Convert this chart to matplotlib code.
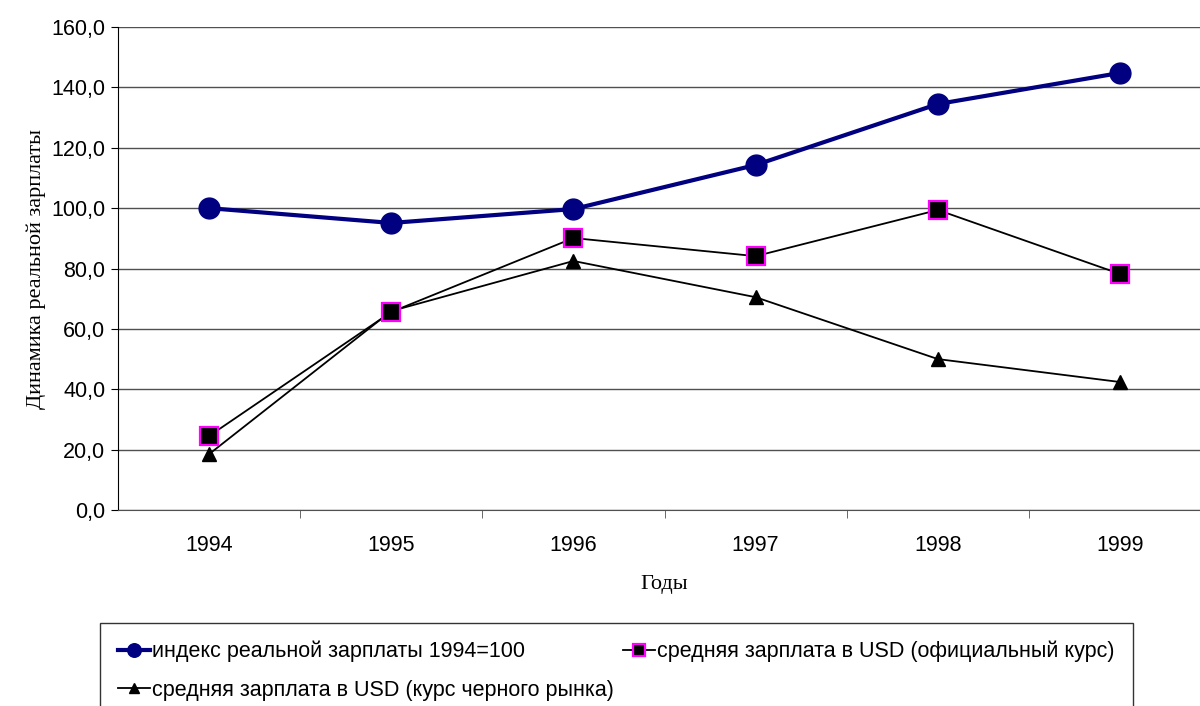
import matplotlib.pyplot as plt
from matplotlib.ticker import FixedLocator, FuncFormatter

years = ['1994', '1995', '1996', '1997', '1998', '1999']
real_wage_index = [100.0, 95.1, 99.7, 114.3, 134.5, 144.8]
usd_official = [24.5, 65.6, 90.1, 84.1, 99.4, 78.2]
usd_black_market = [18.5, 65.9, 82.5, 70.5, 50.0, 42.4]

labels = ['индекс реальной зарплаты 1994=100',
          'средняя зарплата в USD (официальный курс)',
          'средняя зарплата в USD (курс черного рынка)']

plt.rcParams['font.family'] = ['Liberation Sans', 'DejaVu Sans']
serif = ['Liberation Serif', 'DejaVu Serif']

fig = plt.figure(figsize=(12, 7.06), dpi=100)
ax = fig.add_axes([0.0983, 0.2776, 0.911, 0.6841])

x = range(len(years))
l1, = ax.plot(x, real_wage_index, color='#000080', lw=3, marker='o', ms=15,
              label=labels[0], zorder=5)
l2, = ax.plot(x, usd_official, color='black', lw=1.3, marker='s', ms=13.5,
              markerfacecolor='black', markeredgecolor='#FF00FF', markeredgewidth=1.6,
              label=labels[1], zorder=4)
l3, = ax.plot(x, usd_black_market, color='black', lw=1.3, marker='^', ms=10.5,
              label=labels[2], zorder=3)

ax.set_xlim(-0.5, len(years) - 0.5)
ax.set_ylim(0, 160)
ax.set_yticks(range(0, 161, 20))
ax.yaxis.set_major_formatter(FuncFormatter(lambda v, p: f'{v:.1f}'.replace('.', ',')))
ax.yaxis.grid(True, color='#505050', lw=1)
ax.set_axisbelow(True)

ax.set_xticks(list(x))
ax.set_xticklabels(years)
ax.xaxis.set_minor_locator(FixedLocator([i + 0.5 for i in range(len(years) - 1)]))
ax.tick_params(axis='x', which='major', length=0, pad=18, labelsize=15.5)
ax.tick_params(axis='x', which='minor', length=6, color='#505050')
ax.tick_params(axis='y', length=5, labelsize=15.5, pad=4)

for s in ['top', 'right']:
    ax.spines[s].set_visible(False)
ax.spines['bottom'].set_color('#505050')
ax.spines['left'].set_color('black')

ax.set_ylabel('Динамика реальной зарплаты', family=serif, fontsize=16, labelpad=4)
ax.set_xlabel('Годы', family=serif, fontsize=16, labelpad=14)

leg = fig.legend(handles=[l1, l3, l2], loc='upper left', bbox_to_anchor=(0.083, 0.118),
                 ncol=2, fontsize=15.5, frameon=True, fancybox=False, edgecolor='black',
                 handlelength=1.5, handletextpad=0.1, columnspacing=0.4,
                 borderpad=0.85, labelspacing=0.8, borderaxespad=0, markerscale=0.65)
leg.get_frame().set_linewidth(1)

fig.savefig('out.png', dpi=100)
